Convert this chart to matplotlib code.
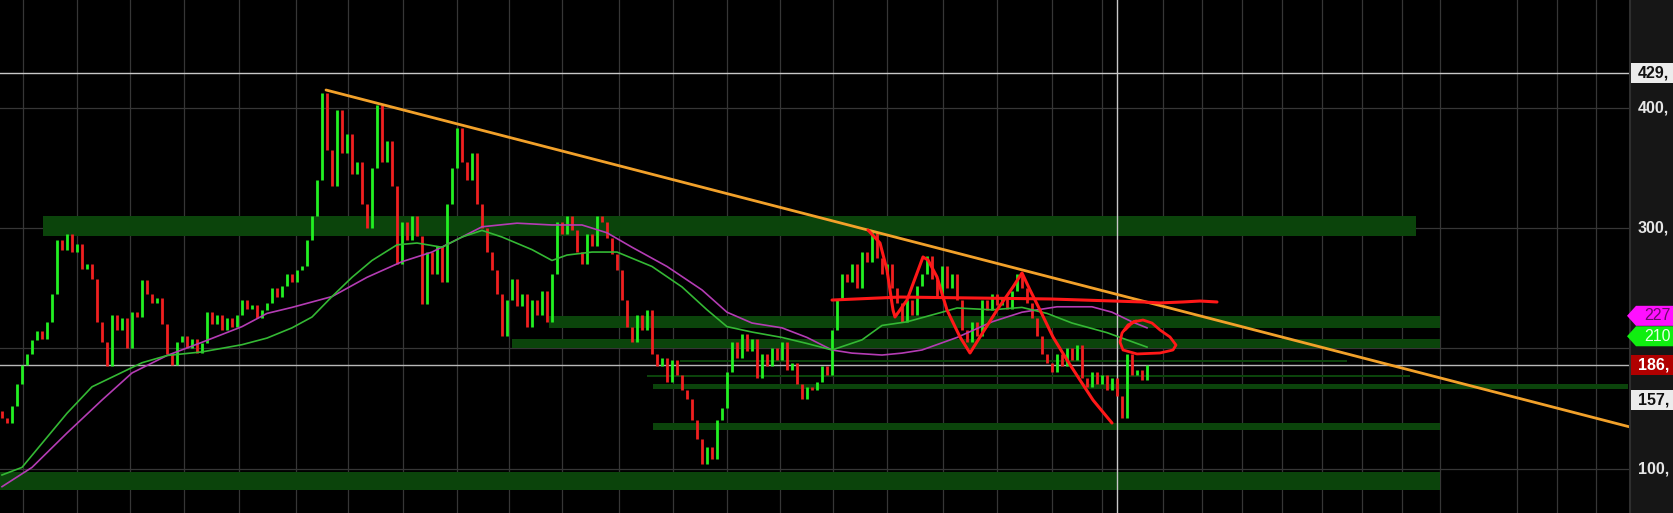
import matplotlib
matplotlib.use('Agg')
import matplotlib.pyplot as plt
from matplotlib.patches import Polygon, Rectangle

# ---------------- data ----------------
first_open = 148
closes = [
    142, 138, 152, 170, 186, 195, 207, 214, 208, 222,
    245, 290, 282, 295, 280, 287, 266, 270, 258, 222,
    205, 185, 228, 215, 225, 200, 230, 226, 257, 245,
    238, 242, 220, 195, 186, 205, 210, 200, 208, 196,
    204, 230, 220, 228, 215, 225, 218, 228, 240, 233,
    236, 225, 232, 238, 250, 243, 252, 262, 255, 265,
    268, 290, 310, 340, 412, 365, 335, 398, 362, 378,
    345, 355, 320, 300, 350, 402, 355, 372, 335, 270,
    305, 290, 310, 293, 237, 280, 262, 285, 255, 320,
    350, 383, 355, 340, 362, 320, 300, 280, 265, 245,
    210, 240, 258, 235, 245, 218, 240, 228, 248, 222,
    262, 305, 295, 310, 298, 280, 270, 295, 285, 310,
    305, 292, 278, 265, 240, 218, 205, 228, 215, 232,
    195, 185, 192, 172, 190, 178, 165, 158, 140, 125,
    104, 118, 108, 140, 150, 180, 205, 192, 212, 198,
    208, 175, 195, 185, 200, 190, 205, 182, 188, 170,
    158, 168, 165, 172, 185, 178, 215, 240, 262, 255,
    270, 250, 280, 272, 297, 275, 262, 270, 250, 238,
    222, 240, 228, 252, 262, 277, 258, 242, 268, 250,
    262, 240, 215, 205, 222, 210, 240, 232, 245, 236,
    242, 233, 248, 262, 250, 238, 225, 210, 195, 188,
    180, 195, 185, 200, 190, 203, 175, 168, 180, 170,
    178, 165, 175, 160, 142, 195, 178, 182, 174, 186,
]

ma_fast_x = [0, 4, 8, 13, 18, 22, 28, 33, 40, 48, 53, 58, 62, 66, 70, 74, 79, 83,
             88, 92, 96, 100, 106, 110, 113, 118, 123, 130, 136, 141, 145, 150,
             156, 161, 166, 172, 176, 181, 188, 191, 198, 204, 209, 214, 221, 225, 229]
ma_fast = [94.7, 101, 121, 146, 168, 176, 188, 194, 197, 203, 208.5, 217, 226, 243,
           259, 273, 286, 287.5, 284, 292.5, 298, 292.5, 282, 273, 277.5, 280, 280,
           268, 251, 232, 218, 213.5, 209, 204, 198.6, 207, 219, 222, 230, 233.5,
           232, 234, 229, 221, 213, 207, 201]

ma_slow_x = [0, 6, 13, 20, 26, 33, 40, 48, 53, 58, 66, 73, 80, 86, 92, 96, 103, 110,
             116, 121, 126, 133, 140, 145, 150, 156, 161, 166, 170, 176, 180, 184,
             191, 198, 204, 211, 218, 222, 226, 229]
ma_slow = [85, 101, 129.6, 157, 179.5, 194, 205, 218, 229, 234, 243, 259, 272, 280,
           292.5, 301, 304, 302.5, 302.5, 296, 284, 268, 248.5, 230, 221, 217, 209,
           198.6, 196, 194.4, 196, 198.6, 209, 222, 230, 234.5, 234.5, 230, 222, 217]

# support / resistance zones: (price low, price high, bar start, bar end)
zone_lo = [293.4, 216.9, 200.2, 188.9, 176.4, 166.2, 132.0, 82.2]
zone_hi = [310.0, 226.8, 207.7, 190.3, 178.0, 170.3, 137.9, 97.2]
zone_x0 = [8.2, 109.4, 102.0, 135.6, 129.0, 130.2, 130.2, -0.4]
zone_x1 = [282.8, 287.6, 287.6, 269.0, 281.6, 325.2, 287.6, 287.6]

trend_x = [64.8, 325.6]
trend_p = [414.7, 134.6]

zig_x = [173.2, 175.6, 177, 178.2, 178.6, 181, 184.2, 185.2, 187, 189, 191.6, 193.6,
         195.6, 199, 202.2, 204, 205.6, 207.6, 210.2, 213, 215.6, 218.2, 221, 222]
zig_p = [298.3, 287.5, 265.1, 231.8, 226, 240.1, 275.9, 273.4, 259.3, 231.8, 209.4,
         196.1, 209.4, 231.8, 251, 262.6, 248.5, 231.8, 209.4, 190.3, 173.6, 157,
         142.9, 137.9]

neck_x = [166, 179.6, 209.6, 228.2, 231.6, 236.2, 239.6, 243]
neck_p = [240.1, 242.6, 241, 238.5, 237.7, 238.5, 239.3, 238.5]

loop_x = [224.6, 226.2, 228.2, 230, 231.6, 233.6, 234.8, 234.2, 231.6, 227, 224.2,
          223.6, 224, 225.2, 226.8]
loop_p = [215.2, 221.9, 223.5, 221, 215.2, 209.4, 202.7, 198.6, 196.1, 195.3, 198.6,
          205.2, 212.7, 219.4, 222.7]

grid_prices = [100, 200, 300, 400]
axis_ticks = [400, 300, 100]
high_mark = 429
last_price = 186
ma_slow_last = 227
ma_fast_last = 210
low_mark = 157
crosshair_bar = 223

# ---------------- layout ----------------
W, H = 1673, 513
PLOT_W = 1630
BAR_PX, X0_PX = 5, 2
def px2x(px):
    return (px - X0_PX) / BAR_PX

grid_px = [23, 77, 130, 184, 239, 296, 348, 403, 457, 509, 562, 619, 673, 727, 780,
           833, 887, 943, 997, 1052, 1102, 1163, 1202, 1242, 1282, 1322, 1362, 1402,
           1440, 1517, 1557, 1596]

YMIN, YMAX = 63.1, 489.5
PPX = 1.203  # pixels per price unit

fig = plt.figure(figsize=(W / 100, H / 100), dpi=100, facecolor='black')
ax = fig.add_axes([0, 0, PLOT_W / W, 1])
ax.set_facecolor('black')
ax.set_xlim(px2x(0), px2x(PLOT_W))
ax.set_ylim(YMIN, YMAX)
ax.axis('off')

# grid
for gp in grid_px:
    ax.axvline(px2x(gp), color='#363636', lw=0.9, zorder=0)
for gpr in grid_prices:
    ax.axhline(gpr, color='#363636', lw=0.9, zorder=0)

# zones
for lo, hi, x0, x1 in zip(zone_lo, zone_hi, zone_x0, zone_x1):
    ax.add_patch(Rectangle((x0, lo), x1 - x0, hi - lo, facecolor='#0b440b',
                           edgecolor='none', zorder=1))

# reference lines
ax.axhline(high_mark, color='#c8c8c8', lw=1.0, zorder=2)
ax.axhline(last_price, color='#b8b8b8', lw=1.0, zorder=2)
ax.axvline(crosshair_bar, color='#c8c8c8', lw=1.0, zorder=2)

# bars
opens = [first_open] + closes[:-1]
xs = list(range(len(closes)))
lows = [min(o, c) for o, c in zip(opens, closes)]
highs = [max(o, c) for o, c in zip(opens, closes)]
cols = ['#22f022' if c >= o else '#f02020' for o, c in zip(opens, closes)]
ax.vlines(xs, lows, highs, colors=cols, lw=2.0, zorder=3)

# moving averages
ax.plot(ma_slow_x, ma_slow, color='#b43cb4', lw=1.2, zorder=4)
ax.plot(ma_fast_x, ma_fast, color='#34b834', lw=1.2, zorder=4)

# trendline
ax.plot(trend_x, trend_p, color='#f2a12a', lw=2.0, zorder=5, solid_capstyle='round')

# hand drawings
ax.plot(neck_x, neck_p, color='#ff1818', lw=2.2, zorder=6, solid_capstyle='round')
ax.plot(zig_x, zig_p, color='#ff1818', lw=2.2, zorder=6, solid_capstyle='round',
        solid_joinstyle='round')
ax.plot(loop_x, loop_p, color='#ff1818', lw=2.0, zorder=6, solid_capstyle='round',
        solid_joinstyle='round')

# ---------------- right price axis ----------------
axr = fig.add_axes([PLOT_W / W, 0, (W - PLOT_W) / W, 1])
axr.set_facecolor('#161616')
axr.set_xlim(0, W - PLOT_W)
axr.set_ylim(YMIN, YMAX)
axr.set_xticks([])
axr.set_yticks([])
for s in ['top', 'right', 'bottom']:
    axr.spines[s].set_visible(False)
axr.spines['left'].set_color('#2e2e2e')
axr.spines['left'].set_linewidth(1.5)

half = 10 / PPX
FONT = 'Liberation Sans'

for t in axis_ticks:
    axr.text(8, t, f"{t},", color='#e6e6e6', fontsize=11.5, fontweight='bold',
             family=FONT, va='center', ha='left')

def box(price, face, txtcol, label, weight='bold', arrow=False):
    if arrow:
        poly = Polygon([(-3, price), (6, price + half), (W - PLOT_W, price + half),
                        (W - PLOT_W, price - half), (6, price - half)],
                       closed=True, facecolor=face, edgecolor='none', clip_on=False,
                       zorder=5)
        axr.add_patch(poly)
        axr.text(14, price, label, color=txtcol, fontsize=11.5, fontweight=weight,
                 family=FONT, va='center', ha='left', zorder=6)
    else:
        axr.add_patch(Rectangle((0.5, price - half), W - PLOT_W, 2 * half,
                                facecolor=face, edgecolor='none', zorder=5))
        axr.text(8, price, label, color=txtcol, fontsize=11.5, fontweight=weight,
                 family=FONT, va='center', ha='left', zorder=6)

box(high_mark, '#ececec', '#111111', f"{high_mark},")
box(ma_slow_last, '#ff10ff', '#6a0a6a', f"{ma_slow_last}", weight='normal', arrow=True)
box(ma_fast_last, '#10ee10', '#e8ffe8', f"{ma_fast_last}", weight='normal', arrow=True)
box(last_price, '#b00000', '#ffffff', f"{last_price},")
box(low_mark, '#ececec', '#111111', f"{low_mark},")

fig.savefig('out.png', dpi=100, facecolor='black')
